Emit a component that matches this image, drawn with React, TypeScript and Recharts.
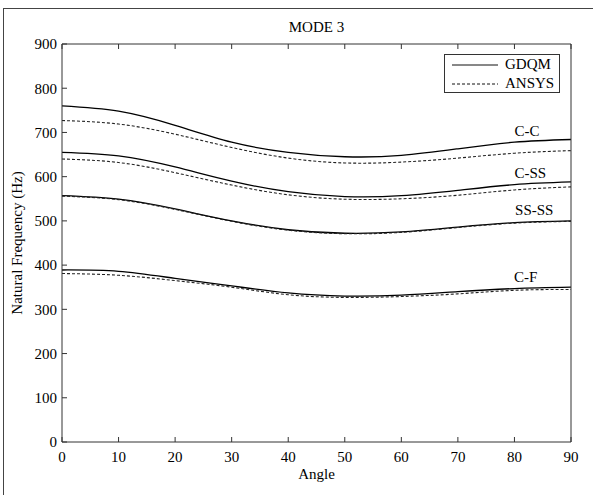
import {
  LineChart, Line, XAxis, YAxis, Legend, ReferenceDot,
} from 'recharts';

const angles = [0, 10, 20, 30, 40, 50, 60, 70, 80, 90];

const ccGdqm = [760, 748, 716, 678, 655, 645, 648, 663, 678, 684];
const ccAnsys = [727, 719, 696, 666, 642, 631, 633, 642, 653, 659];
const cssGdqm = [655, 647, 622, 590, 566, 555, 557, 569, 582, 588];
const cssAnsys = [640, 632, 609, 581, 559, 549, 550, 558, 570, 577];
const ssGdqm = [557, 549, 527, 500, 480, 472, 475, 486, 496, 500];
const ssAnsys = [556, 548, 526, 499, 479, 471, 474, 485, 495, 499];
const cfGdqm = [389, 386, 370, 353, 337, 330, 332, 340, 347, 350];
const cfAnsys = [381, 377, 365, 350, 333, 327, 329, 335, 343, 345];

const xTicks = [0, 10, 20, 30, 40, 50, 60, 70, 80, 90];
const yTicks = [0, 100, 200, 300, 400, 500, 600, 700, 800, 900];

// curve labels: [text, angle, frequency]
const curveLabels: [string, number, number][] = [
  ['C-C', 82.2, 705],
  ['C-SS', 82.8, 610],
  ['SS-SS', 83.5, 525],
  ['C-F', 82, 373],
];

const FONT = '"Liberation Serif", "Times New Roman", serif';
const AXIS = '#333';

const rows = angles.map((a, i) => ({
  angle: a,
  ccG: ccGdqm[i], ccA: ccAnsys[i],
  cssG: cssGdqm[i], cssA: cssAnsys[i],
  ssG: ssGdqm[i], ssA: ssAnsys[i],
  cfG: cfGdqm[i], cfA: cfAnsys[i],
}));

const solid = ['ccG', 'cssG', 'ssG', 'cfG'];
const dashed = ['ccA', 'cssA', 'ssA', 'cfA'];

function LegendBox() {
  const row = (dash: string | undefined, text: string) => (
    <div style={{ display: 'flex', alignItems: 'center', height: 19 }}>
      <svg width={58} height={10} style={{ display: 'block' }}>
        <line x1={7} x2={53} y1={5} y2={5} stroke="#111" strokeWidth={1} strokeDasharray={dash} />
      </svg>
      <span style={{ marginLeft: 2 }}>{text}</span>
    </div>
  );
  return (
    <div style={{
      border: `1px solid ${AXIS}`, background: '#fff', width: 114, height: 37,
      fontFamily: FONT, fontSize: 15, color: '#000', lineHeight: '19px',
    }}>
      {row(undefined, 'GDQM')}
      {row('3 2', 'ANSYS')}
    </div>
  );
}

export default function App() {
  const tickStyle = { fill: '#000', fontSize: 15, fontFamily: FONT };
  return (
    <div style={{ position: 'absolute', left: 0, top: 0, width: 593, height: 495, background: '#fff' }}>
      <div style={{
        position: 'absolute', left: 3, top: 8, width: 590, height: 487,
        borderLeft: '1px solid #444', borderTop: '1px solid #444',
      }} />
      <div style={{ position: 'absolute', left: 0, top: 0 }}>
        <LineChart width={593} height={495} data={rows}
          margin={{ top: 0, right: 12, bottom: 0, left: 0 }}
          style={{ fontFamily: FONT }}>
          <XAxis xAxisId="b" dataKey="angle" type="number" domain={[0, 90]} ticks={xTicks}
            orientation="bottom" height={53} stroke={AXIS} tickSize={-5} tickMargin={14}
            tick={tickStyle} interval={0}
            label={{
              content: (p: any) => (
                <text x={p.viewBox.x + p.viewBox.width / 2} y={p.viewBox.y + 32}
                  textAnchor="middle" dominantBaseline="central"
                  fontSize={15} fontFamily={FONT} fill="#000">Angle</text>
              ),
            }} />
          <XAxis xAxisId="t" dataKey="angle" type="number" domain={[0, 90]} ticks={xTicks}
            orientation="top" height={44} stroke={AXIS} tickSize={-5}
            tickFormatter={() => ''} interval={0}
            label={{
              content: (p: any) => (
                <text x={p.viewBox.x + p.viewBox.width / 2} y={27}
                  textAnchor="middle" dominantBaseline="central"
                  fontSize={15} fontFamily={FONT} fill="#000">MODE 3</text>
              ),
            }} />
          <YAxis yAxisId="l" type="number" domain={[0, 900]} ticks={yTicks}
            orientation="left" width={62} stroke={AXIS} tickSize={-5} tickMargin={10}
            tick={tickStyle} interval={0}
            label={{
              content: (p: any) => {
                const cx = 17;
                const cy = p.viewBox.y + p.viewBox.height / 2;
                return (
                  <text x={cx} y={cy} transform={`rotate(-90 ${cx} ${cy})`}
                    textAnchor="middle" dominantBaseline="central"
                    fontSize={15} fontFamily={FONT} fill="#000">Natural Frequency (Hz)</text>
                );
              },
            }} />
          <YAxis yAxisId="r" type="number" domain={[0, 900]} ticks={yTicks}
            orientation="right" width={10} stroke={AXIS} tickSize={-5}
            tickFormatter={() => ''} interval={0} />
          <Legend layout="vertical" align="center" verticalAlign="middle"
            wrapperStyle={{ position: 'absolute', left: 444, top: 54, width: 116, height: 39 }}
            content={() => <LegendBox />} />
          {solid.map((k) => (
            <Line key={k} xAxisId="b" yAxisId="l" dataKey={k} type="natural"
              stroke="#000" strokeWidth={1.3} dot={false} activeDot={false}
              isAnimationActive={false} legendType="none" />
          ))}
          {dashed.map((k) => (
            <Line key={k} xAxisId="b" yAxisId="l" dataKey={k} type="natural"
              stroke="#222" strokeWidth={1.1} strokeDasharray="3 2" dot={false} activeDot={false}
              isAnimationActive={false} legendType="none" />
          ))}
          {curveLabels.map(([text, x, y]) => (
            <ReferenceDot key={text} xAxisId="b" yAxisId="l" x={x} y={y} r={1}
              fill="none" stroke="none"
              label={{ value: text, position: 'center', fontSize: 15, fontFamily: FONT, fill: '#000' }} />
          ))}
        </LineChart>
      </div>
    </div>
  );
}
